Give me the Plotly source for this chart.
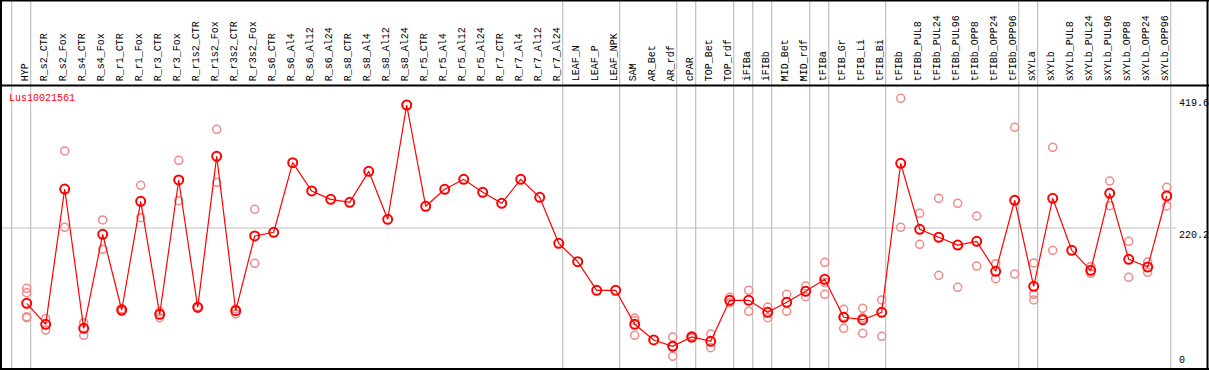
import plotly.graph_objects as go

W, H = 1209, 370

gene = "Lus10021561"

categories = [
    "HYP", "R_s2_CTR", "R_s2_Fox", "R_s4_CTR", "R_s4_Fox", "R_r1_CTR", "R_r1_Fox",
    "R_r3_CTR", "R_r3_Fox", "R_r1s2_CTR", "R_r1s2_Fox", "R_r3s2_CTR", "R_r3s2_Fox",
    "R_s6_CTR", "R_s6_Al4", "R_s6_Al12", "R_s6_Al24", "R_s8_CTR", "R_s8_Al4",
    "R_s8_Al12", "R_s8_Al24", "R_r5_CTR", "R_r5_Al4", "R_r5_Al12", "R_r5_Al24",
    "R_r7_CTR", "R_r7_Al4", "R_r7_Al12", "R_r7_Al24", "LEAF_N", "LEAF_P", "LEAF_NPK",
    "SAM", "AR_Bet", "AR_rdf", "cPAR", "TOP_Bet", "TOP_rdf", "iFIBa", "iFIBb",
    "MID_Bet", "MID_rdf", "tFIBa", "tFIB_Gr", "tFIB_Li", "tFIB_Bi", "tFIBb",
    "tFIBb_PUL8", "tFIBb_PUL24", "tFIBb_PUL96", "tFIBb_OPP8", "tFIBb_OPP24",
    "tFIBb_OPP96", "sXYLa", "sXYLb", "sXYLb_PUL8", "sXYLb_PUL24", "sXYLb_PUL96",
    "sXYLb_OPP8", "sXYLb_OPP24", "sXYLb_OPP96",
]

mean_values = [
    104.4, 72.1, 280.1, 65.9, 210.4, 94.1, 261.2,
    87.5, 294.0, 98.2, 330.4, 93.0, 207.9,
    213.6, 320.6, 277.1, 264.3, 259.7, 307.3,
    233.5, 409.3, 253.5, 279.7, 295.0, 275.1,
    258.1, 295.0, 267.4, 196.6, 168.4, 124.4, 124.4,
    72.1, 48.0, 38.3, 52.6, 46.0, 109.0, 109.0, 90.5,
    105.9, 122.8, 141.3, 82.9, 79.2, 90.5, 319.6,
    218.2, 205.9, 194.0, 199.7, 153.6,
    262.8, 130.5, 265.8, 185.9, 155.1, 273.5,
    172.0, 160.2, 269.4,
]

replicates = [
    [127.5, 120.7, 83.8, 82.3], [80.7, 63.3], [338.6, 221.2], [74.6, 55.1], [232.5, 187.4],
    [96.0, 92.0], [285.8, 236.0],
    [91.5, 82.3], [324.2, 262.2], [99.5, 97.0], [371.9, 290.4], [96.0, 88.0], [248.9, 165.9],
    [], [], [], [], [], [],
    [], [], [], [], [], [],
    [], [], [], [], [], [], [],
    [81.8, 78.0, 55.2], [], [52.6, 38.5, 22.9], [54.5, 51.0], [57.2, 36.1], [113.6, 105.3],
    [124.4, 92.1], [98.7, 82.3],
    [118.2, 92.1], [131.0, 114.6], [167.4, 136.7, 118.2], [95.2, 84.0, 65.9],
    [96.7, 82.0, 58.3], [109.5, 53.6], [419.6, 221.2],
    [242.8, 195.1], [265.8, 147.4], [258.1, 129.0], [238.6, 161.7], [165.3, 142.2],
    [375.0, 149.4], [166.4, 118.2, 109.5], [344.2, 185.9], [], [160.7, 150.5], [292.4, 254.5],
    [199.7, 144.4], [167.9, 152.1], [282.8, 254.0],
]

# group separators drawn after these category indices
separator_after = [-1, 0, 28, 31, 34, 35, 37, 38, 39, 41, 42, 45, 52, 53, 60]

ytick_values = [0, 220.2, 419.6]
ytick_labels = ["0", "220.2", "419.6"]

# ---- geometry (pixels) ----
PX_PER_CAT = 19.0
FIRST_X = 26.7
ZERO_Y = 371.2
PX_PER_UNIT = 0.6504
HEADER_Y = 85.5

x0 = -FIRST_X / PX_PER_CAT
x1 = x0 + W / PX_PER_CAT
y_lo = (ZERO_Y - H) / PX_PER_UNIT
y_hi = ZERO_Y / PX_PER_UNIT


def py(px):
    return 1 - px / H


def pxx(px):
    return px / W


rep_x, rep_y = [], []
for c, reps in zip(categories, replicates):
    for v in reps:
        rep_x.append(c)
        rep_y.append(v)

fig = go.Figure()
fig.add_trace(go.Scatter(
    x=rep_x, y=rep_y, mode="markers",
    marker=dict(symbol="circle-open", size=8, color="#f08a8a", line=dict(width=1.5)),
    hoverinfo="skip", showlegend=False,
))
fig.add_trace(go.Scatter(
    x=categories, y=mean_values, mode="lines+markers",
    line=dict(color="#ff0000", width=1.2),
    marker=dict(symbol="circle-open", size=9, color="#ff0000", line=dict(width=2)),
    showlegend=False,
))

shapes = []
for i in separator_after:
    shapes.append(dict(type="line", xref="x", yref="paper", x0=i + 0.21, x1=i + 0.21,
                       y0=0, y1=1, line=dict(color="#c0c0c0", width=1.2), layer="below"))
shapes.append(dict(type="line", xref="paper", yref="y", x0=0, x1=pxx(1176),
                   y0=ytick_values[1], y1=ytick_values[1],
                   line=dict(color="#c0c0c0", width=1.2), layer="below"))
blk = dict(color="black", width=2)
shapes += [
    dict(type="line", xref="paper", yref="paper", x0=0, x1=1, y0=py(0.5), y1=py(0.5), line=blk),
    dict(type="line", xref="paper", yref="paper", x0=0, x1=1, y0=py(HEADER_Y), y1=py(HEADER_Y), line=blk),
    dict(type="line", xref="paper", yref="paper", x0=0, x1=1, y0=py(369), y1=py(369), line=blk),
    dict(type="line", xref="paper", yref="paper", x0=pxx(1), x1=pxx(1), y0=0, y1=1, line=blk),
    dict(type="line", xref="paper", yref="paper", x0=pxx(1207.5), x1=pxx(1207.5), y0=0, y1=1, line=blk),
]

annotations = []
mono = "Liberation Mono"
for c in categories:
    annotations.append(dict(
        x=c, xref="x", y=py(83.5), yref="paper", text=c, textangle=-90,
        xanchor="center", yanchor="bottom", showarrow=False,
        font=dict(family=mono, size=10, color="black"), xshift=-1,
    ))
annotations.append(dict(
    x=pxx(7), xref="paper", y=py(91), yref="paper", text=gene,
    xanchor="left", yanchor="top", showarrow=False,
    font=dict(family=mono, size=10, color="#ff0000"),
))
for v, t in zip(ytick_values, ytick_labels):
    if v == 0:
        annotations.append(dict(x=pxx(1177), xref="paper", y=py(368), yref="paper", text=t,
                                xanchor="left", yanchor="bottom", showarrow=False,
                                font=dict(family=mono, size=10, color="black")))
    else:
        annotations.append(dict(x=pxx(1177), xref="paper", y=v, yref="y", text=t,
                                xanchor="left", yanchor="top", showarrow=False, yshift=2 if v > 300 else 0,
                                font=dict(family=mono, size=10, color="black")))

fig.update_layout(
    width=W, height=H, margin=dict(l=0, r=0, t=0, b=0),
    paper_bgcolor="white", plot_bgcolor="white",
    xaxis=dict(type="category", categoryorder="array", categoryarray=categories,
               range=[x0, x1], showgrid=False, zeroline=False, showticklabels=False,
               showline=False, fixedrange=True),
    yaxis=dict(range=[y_lo, y_hi], showgrid=False, zeroline=False, showticklabels=False,
               showline=False, fixedrange=True),
    shapes=shapes, annotations=annotations, showlegend=False,
)

fig.write_html(
    "out.html",
    config={"displayModeBar": False},
    post_script="document.body.style.margin='0';document.body.style.overflow='hidden';",
)
